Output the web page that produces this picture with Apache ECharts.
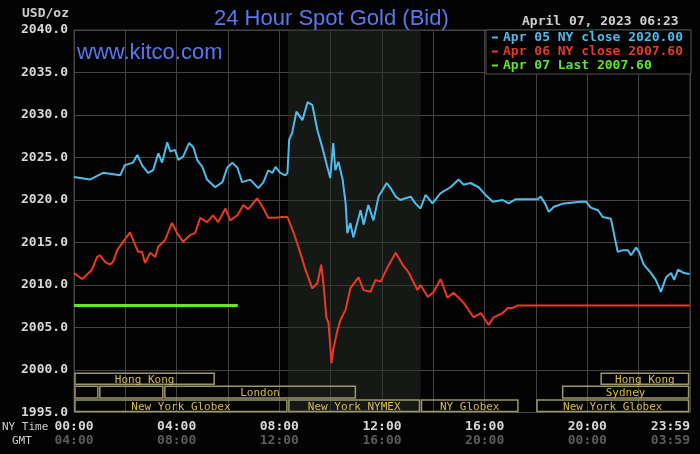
<!DOCTYPE html>
<html>
<head>
<meta charset="utf-8">
<title>24 Hour Spot Gold (Bid)</title>
<script src="https://cdn.jsdelivr.net/npm/echarts@6/dist/echarts.min.js"></script>
<style>
  html, body { margin: 0; padding: 0; background: #030303; }
  #main { width: 700px; height: 454px; }
</style>
</head>
<body>
<div id="main"></div>
<script>
// minutes after 00:00 NY time, bid in USD/oz
var apr05Time = [0, 37, 68, 108, 119, 138, 148, 159, 173, 185, 197, 206, 218, 225, 236, 244, 255, 269, 279, 288,
    300, 311, 330, 347, 358, 370, 382, 393, 412, 431, 443, 454, 464, 471, 482, 494, 499, 503, 510, 520,
    534, 546, 557, 569, 581, 592, 599, 606, 611, 618, 628, 635, 639, 646, 653, 670, 677, 688, 700, 712,
    731, 740, 752, 763, 775, 787, 798, 810, 822, 838, 857, 880, 899, 911, 927, 946, 962, 979, 1002, 1016,
    1033, 1084, 1091, 1101, 1110, 1122, 1145, 1185, 1197, 1208, 1225, 1236, 1255, 1262, 1271, 1283, 1295, 1302, 1314, 1321,
    1332, 1349, 1360, 1372, 1384, 1396, 1403, 1412, 1426, 1439];
var apr05Value = [2022.7, 2022.4, 2023.2, 2022.9, 2024.1, 2024.4, 2025.3, 2024.1, 2023.2, 2023.5, 2025.5, 2024.4, 2026.8, 2025.7, 2025.9, 2024.7, 2025.1, 2026.7, 2026.2, 2024.7,
    2023.9, 2022.4, 2021.5, 2022.1, 2023.8, 2024.4, 2023.8, 2022.1, 2022.4, 2021.4, 2022.1, 2023.5, 2023.2, 2023.9, 2023.2, 2022.9, 2023.2, 2027.1, 2027.9, 2030.4,
    2029.4, 2031.5, 2031.2, 2028.2, 2026.1, 2023.9, 2022.6, 2026.7, 2023.5, 2024.5, 2022.4, 2019.6, 2016.1, 2017.3, 2015.6, 2018.8, 2017.1, 2019.4, 2017.6, 2020.4,
    2022.0, 2021.4, 2020.4, 2020.0, 2020.2, 2020.4, 2019.6, 2019.0, 2020.6, 2019.6, 2020.8, 2021.5, 2022.4, 2021.8, 2022.0, 2021.5, 2020.6, 2019.8, 2020.0, 2019.6,
    2020.1, 2020.1, 2020.4, 2019.6, 2018.6, 2019.2, 2019.6, 2019.8, 2019.8, 2019.1, 2018.8, 2018.0, 2017.8, 2016.1, 2013.9, 2014.1, 2014.1, 2013.5, 2014.4, 2013.9,
    2012.4, 2011.4, 2010.6, 2009.2, 2010.9, 2011.4, 2010.6, 2011.8, 2011.4, 2011.3];

var apr06Time = [0, 19, 30, 42, 54, 61, 73, 84, 91, 101, 115, 131, 143, 150, 159, 166, 178, 190, 197, 213,
    229, 241, 255, 272, 283, 295, 311, 325, 337, 354, 365, 382, 396, 407, 428, 443, 454, 471, 487, 499,
    513, 529, 541, 557, 569, 578, 583, 590, 595, 602, 606, 616, 623, 635, 646, 665, 677, 693, 705, 717,
    733, 752, 768, 782, 803, 810, 827, 841, 857, 873, 887, 899, 911, 934, 951, 969, 981, 1002, 1014, 1026,
    1037, 1439];
var apr06Value = [2011.4, 2010.7, 2011.2, 2011.8, 2013.3, 2013.5, 2012.7, 2012.4, 2012.7, 2014.1, 2015.1, 2016.2, 2014.7, 2013.9, 2013.9, 2012.6, 2013.8, 2013.3, 2014.5, 2015.3,
    2017.3, 2016.1, 2015.1, 2015.9, 2016.1, 2017.9, 2017.4, 2018.2, 2017.4, 2019.0, 2017.6, 2018.2, 2019.4, 2018.9, 2020.2, 2019.0, 2017.9, 2017.9, 2018.0, 2018.0,
    2016.2, 2013.8, 2011.8, 2009.6, 2010.2, 2012.4, 2010.2, 2006.2, 2005.5, 2000.8, 2002.4, 2004.7, 2005.9, 2007.1, 2009.6, 2010.9, 2009.4, 2009.2, 2010.6, 2010.4,
    2012.1, 2013.8, 2012.4, 2011.5, 2009.4, 2010.0, 2008.6, 2009.2, 2010.7, 2008.5, 2009.1, 2008.5, 2007.9, 2006.2, 2006.7, 2005.3, 2006.2, 2006.7, 2007.3, 2007.3,
    2007.6, 2007.6];

var apr07Time = [0, 383];
var apr07Value = [2007.6, 2007.6];

var seriesNames = ['Apr 05 NY close 2020.00', 'Apr 06 NY close 2007.60', 'Apr 07 Last 2007.60'];
var seriesColors = ['#4fbcec', '#ec3a22', '#5ee82a'];

// x axis ticks (minutes), NY time / GMT labels
var tickMinutes = [0, 240, 480, 720, 960, 1200, 1440];
var nyLabels = ['00:00', '04:00', '08:00', '12:00', '16:00', '20:00', '23:59'];
var gmtLabels = ['04:00', '08:00', '12:00', '16:00', '20:00', '00:00', '03:59'];

// trading sessions: start, end (minutes), row, name
var sessionStart = [0, 1230, 0, 58, 210, 1140, 0, 500, 810, 1080];
var sessionEnd = [330, 1439, 58, 210, 660, 1439, 500, 810, 1040, 1439];
var sessionRow = [0, 0, 1, 1, 1, 1, 2, 2, 2, 2];
var sessionName = ['Hong Kong', 'Hong Kong', '', '', 'London', 'Sydney', 'New York Globex', 'New York NYMEX', 'NY Globex', 'New York Globex'];
var rowEdges = [1999.75, 1998.2, 1996.6, 1995.0];

var nymexArea = [500, 810];

function pairs(t, v) {
    var out = [];
    for (var i = 0; i < t.length; i++) out.push([t[i], v[i]]);
    return out;
}

var mono = 'DejaVu Sans Mono';
var chart = echarts.init(document.getElementById('main'));

var sessionData = [];
for (var i = 0; i < sessionStart.length; i++) {
    sessionData.push([sessionStart[i], sessionEnd[i], sessionRow[i]]);
}

var option = {
    backgroundColor: '#030303',
    animation: false,
    title: {
        text: '24 Hour Spot Gold (Bid)',
        left: 209,
        top: 3,
        textStyle: { color: '#5a78ee', fontSize: 22, fontFamily: 'Liberation Sans', fontWeight: 'normal' }
    },
    legend: {
        orient: 'vertical',
        left: 486,
        top: 30,
        padding: [1, 8, 2, 6],
        itemGap: 1,
        itemWidth: 6,
        itemHeight: 2,
        icon: 'rect',
        backgroundColor: '#000',
        borderColor: '#555',
        borderWidth: 1,
        selectedMode: false,
        textStyle: { fontFamily: mono, fontSize: 13, fontWeight: 'bold', lineHeight: 13 },
        data: [
            { name: seriesNames[0], textStyle: { color: seriesColors[0] } },
            { name: seriesNames[1], textStyle: { color: seriesColors[1] } },
            { name: seriesNames[2], textStyle: { color: seriesColors[2] } }
        ]
    },
    graphic: [
        { type: 'text', left: 22, top: 7, style: { text: 'USD/oz', fill: '#cfcfcf', font: 'bold 13px "DejaVu Sans Mono"' } },
        { type: 'text', left: 522, top: 15, style: { text: 'April 07, 2023 06:23', fill: '#cfcfcf', font: 'bold 13px "DejaVu Sans Mono"' } },
        { type: 'text', left: 77, top: 42, z: 10, style: { text: 'www.kitco.com', fill: '#5a78ee', font: '22px "Liberation Sans"' } },
        { type: 'text', left: 2, top: 422, style: { text: 'NY Time', fill: '#cfcfcf', font: '11px "DejaVu Sans Mono"' } },
        { type: 'text', left: 12, top: 436, style: { text: 'GMT', fill: '#cfcfcf', font: '11px "DejaVu Sans Mono"' } }
    ],
    grid: {
        left: 74,
        right: 10,
        top: 30,
        bottom: 41.5,
        show: true,
        borderColor: '#444',
        borderWidth: 1,
        outerBoundsMode: 'none'
    },
    xAxis: {
        type: 'value',
        min: 0,
        max: 1440,
        interval: 120,
        axisLine: { show: false },
        axisTick: { show: false },
        splitLine: { show: true, lineStyle: { color: '#444', width: 1 } },
        axisLabel: {
            margin: 7,
            alignMaxLabel: 'right',
            formatter: function (v) {
                var k = tickMinutes.indexOf(v);
                if (k < 0) return '';
                return '{a|' + nyLabels[k] + '}\n{b|' + gmtLabels[k] + '}';
            },
            rich: {
                a: { color: '#d8d8d8', fontFamily: mono, fontSize: 13, fontWeight: 'bold', lineHeight: 14 },
                b: { color: '#5c5c5c', fontFamily: mono, fontSize: 13, fontWeight: 'bold', lineHeight: 14 }
            }
        }
    },
    yAxis: {
        type: 'value',
        min: 1995,
        max: 2040,
        interval: 5,
        axisLine: { show: false },
        axisTick: { show: false },
        splitLine: { show: true, lineStyle: { color: '#444', width: 1 } },
        axisLabel: {
            margin: 6,
            color: '#d8d8d8',
            fontFamily: mono,
            fontSize: 13,
            fontWeight: 'bold',
            formatter: function (v) { return v.toFixed(1); }
        }
    },
    series: [
        {
            name: seriesNames[0],
            type: 'line',
            data: pairs(apr05Time, apr05Value),
            showSymbol: false,
            color: seriesColors[0],
            lineStyle: { width: 2 },
            z: 3,
            markArea: {
                silent: true,
                itemStyle: { color: 'rgba(40,46,40,0.5)' },
                data: [[{ xAxis: nymexArea[0] }, { xAxis: nymexArea[1] }]]
            }
        },
        {
            name: seriesNames[1],
            type: 'line',
            data: pairs(apr06Time, apr06Value),
            showSymbol: false,
            color: seriesColors[1],
            lineStyle: { width: 2 },
            z: 3
        },
        {
            name: seriesNames[2],
            type: 'line',
            data: pairs(apr07Time, apr07Value),
            showSymbol: false,
            color: seriesColors[2],
            lineStyle: { width: 3 },
            z: 3
        },
        {
            //交易时段
            type: 'custom',
            silent: true,
            z: 4,
            data: sessionData,
            renderItem: function (params, api) {
                var row = api.value(2);
                var p1 = api.coord([api.value(0), rowEdges[row]]);
                var p2 = api.coord([api.value(1), rowEdges[row + 1]]);
                return {
                    type: 'group',
                    children: [
                        {
                            type: 'rect',
                            shape: { x: p1[0] + 1, y: p1[1] + 1, width: p2[0] - p1[0] - 2, height: p2[1] - p1[1] - 2 },
                            style: { fill: 'none', stroke: '#9c966a', lineWidth: 1.5 }
                        },
                        {
                            type: 'text',
                            x: (p1[0] + p2[0]) / 2,
                            y: (p1[1] + p2[1]) / 2 + 1,
                            style: {
                                text: sessionName[params.dataIndex],
                                fill: '#d8bc4e',
                                font: '11px "DejaVu Sans Mono"',
                                align: 'center',
                                verticalAlign: 'middle'
                            }
                        }
                    ]
                };
            }
        }
    ]
};
chart.setOption(option);
</script>
</body>
</html>
